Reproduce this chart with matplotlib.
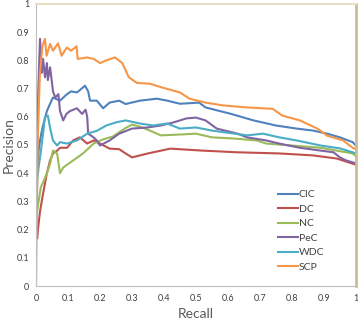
import numpy as np
import matplotlib
matplotlib.use("Agg")
import matplotlib.pyplot as plt

plt.rcParams['font.family'] = ['Lato', 'DejaVu Sans']

# Precision / recall curves
cic_r = [0.004, 0.008, 0.0125, 0.02, 0.034, 0.044, 0.053, 0.075, 0.097, 0.11, 0.128, 0.143, 0.153, 0.163,
         0.169, 0.19, 0.21, 0.23, 0.26, 0.28, 0.325, 0.378, 0.41, 0.45, 0.51, 0.53, 0.61, 0.68, 0.75, 0.815,
         0.866, 0.91, 0.95, 0.99, 1.0]
cic_p = [0.42, 0.48, 0.516, 0.56, 0.62, 0.646, 0.668, 0.657, 0.68, 0.69, 0.686, 0.70, 0.71, 0.69,
         0.657, 0.657, 0.63, 0.65, 0.657, 0.645, 0.657, 0.664, 0.657, 0.646, 0.65, 0.633, 0.61, 0.587, 0.569, 0.558,
         0.551, 0.54, 0.527, 0.51, 0.498]

dc_r = [0.004, 0.006, 0.012, 0.02, 0.034, 0.044, 0.053, 0.066, 0.075, 0.097, 0.116, 0.137, 0.16, 0.18,
        0.2, 0.23, 0.26, 0.28, 0.3, 0.35, 0.42, 0.52, 0.63, 0.76, 0.866, 0.94, 1.0]
dc_p = [0.17, 0.2, 0.26, 0.315, 0.4, 0.445, 0.47, 0.48, 0.49, 0.49, 0.516, 0.527, 0.505, 0.516,
        0.505, 0.487, 0.485, 0.47, 0.456, 0.47, 0.487, 0.48, 0.474, 0.47, 0.463, 0.452, 0.43]

nc_r = [0.003, 0.008, 0.015, 0.025, 0.034, 0.044, 0.053, 0.066, 0.075, 0.085, 0.116, 0.147, 0.18, 0.21,
        0.24, 0.28, 0.3, 0.325, 0.356, 0.39, 0.45, 0.5, 0.55, 0.616, 0.69, 0.72, 0.8, 0.89, 0.94, 0.99, 1.0]
nc_p = [0.26, 0.3, 0.35, 0.375, 0.4, 0.434, 0.48, 0.47, 0.40, 0.42, 0.445, 0.47, 0.505, 0.52,
        0.53, 0.56, 0.572, 0.565, 0.551, 0.534, 0.537, 0.54, 0.527, 0.523, 0.516, 0.505, 0.498, 0.49, 0.48, 0.47, 0.46]

pec_r = [0.004, 0.007, 0.0125, 0.018, 0.022, 0.028, 0.034, 0.037, 0.044, 0.05, 0.053, 0.06, 0.07, 0.075,
         0.085, 0.095, 0.106, 0.128, 0.144, 0.155, 0.16, 0.163, 0.18, 0.19, 0.2, 0.23, 0.26, 0.3, 0.35, 0.39,
         0.43, 0.47, 0.5, 0.53, 0.565, 0.63, 0.66, 0.72, 0.76, 0.825, 0.89, 0.93, 0.95, 0.97, 1.0]
pec_p = [0.5, 0.69, 0.876, 0.756, 0.805, 0.74, 0.79, 0.73, 0.775, 0.72, 0.69, 0.668, 0.68, 0.62,
         0.587, 0.61, 0.62, 0.63, 0.61, 0.625, 0.6, 0.54, 0.527, 0.516, 0.498, 0.516, 0.54, 0.558, 0.562, 0.569,
         0.58, 0.594, 0.597, 0.587, 0.558, 0.54, 0.527, 0.516, 0.505, 0.49, 0.48, 0.474, 0.456, 0.445, 0.435]

wdc_r = [0.002, 0.004, 0.008, 0.0125, 0.022, 0.028, 0.037, 0.044, 0.053, 0.066, 0.075, 0.097, 0.128, 0.16,
         0.19, 0.22, 0.25, 0.28, 0.325, 0.366, 0.41, 0.45, 0.5, 0.55, 0.66, 0.71, 0.76, 0.815, 0.89, 0.95, 0.99, 1.0]
wdc_p = [0.3, 0.38, 0.42, 0.456, 0.54, 0.6, 0.604, 0.56, 0.516, 0.498, 0.51, 0.505, 0.516, 0.54,
         0.55, 0.569, 0.58, 0.587, 0.576, 0.569, 0.576, 0.558, 0.562, 0.551, 0.534, 0.54, 0.527, 0.516, 0.498, 0.488, 0.474, 0.47]

scp_r = [0, 0.005, 0.012, 0.02, 0.028, 0.033, 0.044, 0.053, 0.069, 0.08, 0.096, 0.11, 0.127, 0.13, 0.16,
         0.18, 0.2, 0.22, 0.247, 0.27, 0.29, 0.315, 0.356, 0.39, 0.45, 0.48, 0.53, 0.585, 0.66, 0.74, 0.77,
         0.825, 0.88, 0.91, 0.96, 0.99, 1.0]
scp_p = [0, 0.5, 0.75, 0.85, 0.876, 0.816, 0.858, 0.834, 0.86, 0.816, 0.845, 0.834, 0.85, 0.805, 0.81,
         0.805, 0.79, 0.8, 0.81, 0.79, 0.74, 0.72, 0.717, 0.705, 0.686, 0.664, 0.65, 0.64, 0.633, 0.628, 0.604,
         0.587, 0.558, 0.533, 0.516, 0.49, 0.485]

labels = ["CIC", "DC", "NC", "PeC", "WDC", "SCP"]
colors = ["#4F81BD", "#C0504D", "#9BBB59", "#8064A2", "#4BACC6", "#F79646"]
curves = [(cic_r, cic_p), (dc_r, dc_p), (nc_r, nc_p), (pec_r, pec_p), (wdc_r, wdc_p), (scp_r, scp_p)]
ticks = np.round(np.arange(0, 1.01, 0.1), 1)
tick_labels = ["0"] + [f"{t:.1f}" for t in ticks[1:-1]] + ["1"]

fig = plt.figure(figsize=(3.58, 3.2), dpi=100)
ax = fig.add_axes([0.1006, 0.106, 0.8934, 0.882])

for (r, p), lab, c in zip(curves, labels, colors):
    ax.plot(r, p, color=c, lw=1.5, label=lab)

ax.set_xlim(0, 1)
ax.set_ylim(0, 1)
ax.set_xticks(ticks)
ax.set_xticklabels(tick_labels)
ax.set_yticks(ticks)
ax.set_yticklabels(tick_labels)
ax.tick_params(axis="x", length=0, labelsize=6.5, labelcolor="#404040", pad=6)
ax.tick_params(axis="y", length=0, labelsize=6.5, labelcolor="#404040", pad=5)

ax.spines['left'].set_color("#BFBFBF")
ax.spines['bottom'].set_color("#BFBFBF")
ax.spines['top'].set_color("#E6DEC6")
ax.spines['top'].set_linewidth(1.5)
ax.spines['right'].set_color("#C9BD93")
ax.spines['right'].set_linewidth(2)

ax.set_xlabel("Recall", fontsize=10, color="#595959", labelpad=3)
ax.set_ylabel("Precision", fontsize=10, color="#595959", labelpad=1)

ax.legend(loc="center left", bbox_to_anchor=(0.756, 0.196), frameon=False,
          fontsize=7.5, handlelength=1.9, handletextpad=0.1, labelspacing=0.5,
          borderpad=0, borderaxespad=0, labelcolor="#404040")

fig.savefig("out.png", dpi=100)
